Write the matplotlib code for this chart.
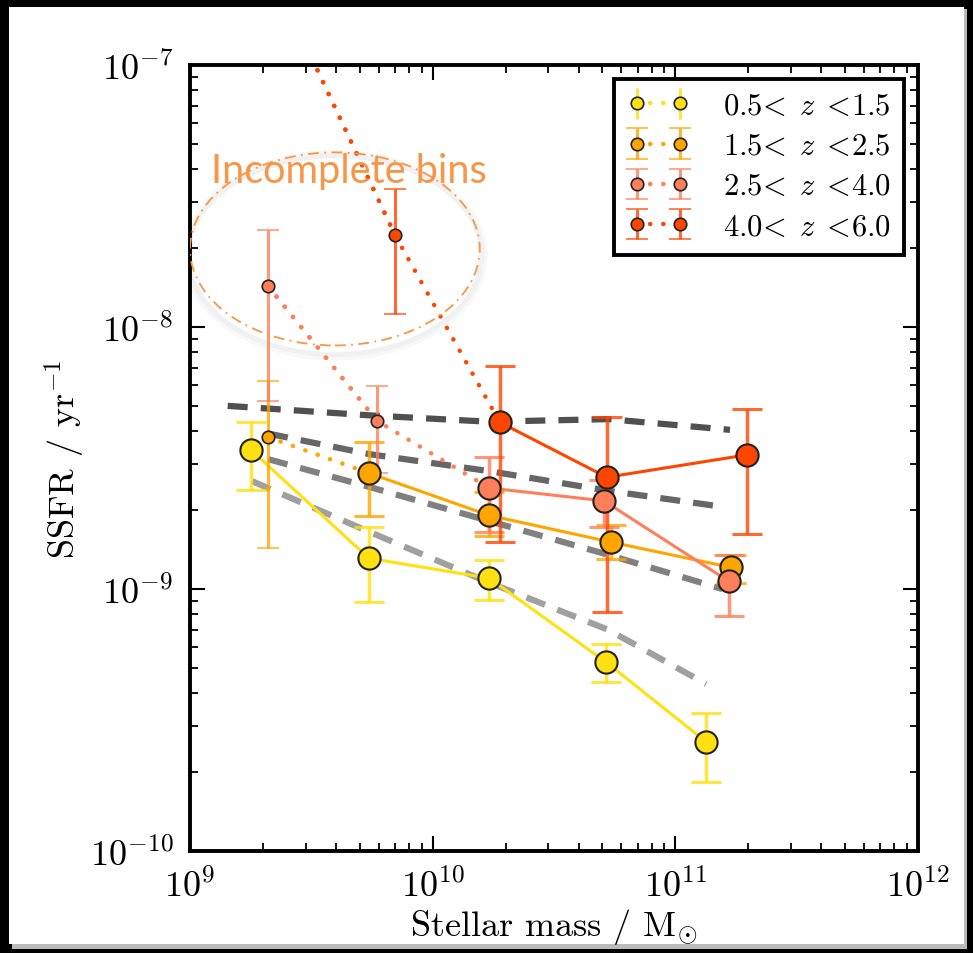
import numpy as np
import matplotlib
matplotlib.use("Agg")
import matplotlib.pyplot as plt
from matplotlib.patches import Ellipse, Rectangle

plt.rcParams['font.family'] = 'serif'
plt.rcParams['font.serif'] = ['cmr10']
plt.rcParams['mathtext.fontset'] = 'cm'
plt.rcParams['axes.formatter.use_mathtext'] = True

# ---- data ----
labels = [r'0.5$\!<\;z\;<\!$1.5', r'1.5$\!<\;z\;<\!$2.5', r'2.5$\!<\;z\;<\!$4.0', r'4.0$\!<\;z\;<\!$6.0']
colors = ['#FFE010', '#FFA500', '#FF7F5A', '#FF4500']

# complete bins
m_z1 = [1.78e9, 5.46e9, 1.71e10, 5.18e10, 1.34e11]
s_z1 = [3.4e-9, 1.31e-9, 1.10e-9, 5.26e-10, 2.61e-10]
lo_z1 = [2.39e-9, 0.89e-9, 0.91e-9, 4.42e-10, 1.83e-10]
hi_z1 = [4.34e-9, 1.73e-9, 1.29e-9, 6.17e-10, 3.37e-10]

m_z2 = [5.46e9, 1.71e10, 5.43e10, 1.69e11]
s_z2 = [2.77e-9, 1.91e-9, 1.51e-9, 1.21e-9]
lo_z2 = [1.90e-9, 1.60e-9, 1.30e-9, 1.05e-9]
hi_z2 = [3.64e-9, 2.35e-9, 1.75e-9, 1.35e-9]

m_z3 = [1.71e10, 5.08e10, 1.66e11]
s_z3 = [2.43e-9, 2.17e-9, 1.07e-9]
lo_z3 = [1.65e-9, 1.73e-9, 7.9e-10]
hi_z3 = [3.19e-9, 2.60e-9, 1.35e-9]

m_z4 = [1.89e10, 5.22e10, 1.97e11]
s_z4 = [4.33e-9, 2.67e-9, 3.25e-9]
lo_z4 = [1.51e-9, 8.17e-10, 1.62e-9]
hi_z4 = [7.1e-9, 4.53e-9, 4.86e-9]

# incomplete bins
mi_z1, si_z1, loi_z1, hii_z1 = [], [], [], []
mi_z2, si_z2, loi_z2, hii_z2 = [2.1e9], [3.8e-9], [1.44e-9], [6.22e-9]
mi_z3, si_z3, loi_z3, hii_z3 = [2.1e9, 5.9e9], [1.43e-8, 4.38e-9], [5.22e-9, 2.77e-9], [2.34e-8, 5.96e-9]
mi_z4, si_z4, loi_z4, hii_z4 = [2.1e9, 7.0e9], [2.4e-7, 2.24e-8], [1.6e-7, 1.12e-8], [3.2e-7, 3.36e-8]

# model curves (dashed grey)
model_m = [
    [1.43e9, 5.5e9, 1.7e10, 5.3e10, 1.68e11],
    [2.1e9, 5.5e9, 1.7e10, 5.3e10, 1.56e11],
    [2.1e9, 5.5e9, 1.7e10, 5.3e10, 1.56e11],
    [1.8e9, 5.5e9, 1.7e10, 5.3e10, 1.34e11],
]
model_s = [
    [5.0e-9, 4.6e-9, 4.35e-9, 4.45e-9, 4.05e-9],
    [3.92e-9, 3.27e-9, 2.82e-9, 2.37e-9, 2.06e-9],
    [3.13e-9, 2.45e-9, 1.82e-9, 1.35e-9, 1.0e-9],
    [2.58e-9, 1.65e-9, 1.06e-9, 6.98e-10, 4.34e-10],
]
model_colors = ['#505050', '#666666', '#808080', '#a0a0a0']

complete = [(m_z1, s_z1, lo_z1, hi_z1), (m_z2, s_z2, lo_z2, hi_z2),
            (m_z3, s_z3, lo_z3, hi_z3), (m_z4, s_z4, lo_z4, hi_z4)]
incomplete = [(mi_z1, si_z1, loi_z1, hii_z1), (mi_z2, si_z2, loi_z2, hii_z2),
              (mi_z3, si_z3, loi_z3, hii_z3), (mi_z4, si_z4, loi_z4, hii_z4)]

dots = (0, (0.05, 2.9))

fig = plt.figure(figsize=(9.73, 9.54), dpi=100, facecolor='black')
# white panel with a soft edge
fig.patches.append(Rectangle((12 / 973, 4 / 954), 955 / 973, 940 / 954, transform=fig.transFigure,
                             facecolor='#bbbbbb', edgecolor='none', zorder=-2))
fig.patches.append(Rectangle((9 / 973, 9 / 954), 955 / 973, 937 / 954, transform=fig.transFigure,
                             facecolor='white', edgecolor='none', zorder=-1))

ax = fig.add_axes([190 / 973, 1 - 852 / 954, 728 / 973, 786 / 954])
ax.set_xscale('log')
ax.set_yscale('log')

for mm, ss, c in zip(model_m, model_s, model_colors):
    ax.plot(mm, ss, color=c, lw=4.5, ls=(0, (3.2, 2.1)), zorder=2)

for i in range(4):
    c = colors[i]
    ec = matplotlib.colors.to_rgba(c, 0.8)
    mi, si, loi, hii = incomplete[i]
    m, s, lo, hi = complete[i]
    # dotted line joining incomplete bins to the first complete bin
    if len(mi) > 0:
        ax.plot(list(mi) + [m[0]], list(si) + [s[0]], color=c, lw=3.2,
                ls=dots, dash_capstyle='round', zorder=3)
    yerr_i = [np.array(si) - np.array(loi), np.array(hii) - np.array(si)]
    eb = ax.errorbar(mi, si, yerr=yerr_i, fmt='o', color=c, mfc=c, mec='#222222', mew=1.2, ms=9,
                     ecolor=ec, elinewidth=2.2, capsize=8, capthick=2.2, ls=dots, lw=3.2,
                     label=labels[i], zorder=4)
    eb[0].set_dash_capstyle('round')
    yerr = [np.array(s) - np.array(lo), np.array(hi) - np.array(s)]
    ax.errorbar(m, s, yerr=yerr, fmt='none', ecolor=ec, elinewidth=2.5, capsize=11,
                capthick=2.2, zorder=3)
    ax.plot(m, s, '-', color=c, lw=2.2, zorder=4)
    ax.plot(m, s, 'o', color=c, mec='#222222', mew=1.5, ms=16, zorder=5)

ax.set_xlim(1e9, 1e12)
ax.set_ylim(1e-10, 1e-7)

for sp in ax.spines.values():
    sp.set_linewidth(2.8)
ax.tick_params(which='both', direction='in', top=True, right=True, labelsize=26, pad=12)
ax.tick_params(which='major', length=11, width=1.5)
ax.tick_params(which='minor', length=5.5, width=1.3)

ax.set_xlabel(r'Stellar mass / M$_{\odot}$', fontsize=26, labelpad=2)
ax.set_ylabel(r'SSFR / yr$^{-1}$', fontsize=26, labelpad=2)

leg = ax.legend(loc='upper right', numpoints=2, fontsize=22, handlelength=2.0,
                borderaxespad=0.45, fancybox=False, framealpha=1, labelspacing=0.42,
                handletextpad=1.1, borderpad=0.45)
leg.get_frame().set_edgecolor('black')
leg.get_frame().set_linewidth(2.8)

# annotation: incomplete bins
for k, a in [(1.0, 0.06), (0.6, 0.06)]:
    ax.add_patch(Ellipse((0.199, 0.758), 0.398 + 0.01 * k, 0.2456 + 0.012 * k, transform=ax.transAxes,
                         fill=False, edgecolor='#888888', lw=6 * k, alpha=a, zorder=1))
ax.add_patch(Ellipse((0.199, 0.766), 0.398, 0.2456, transform=ax.transAxes, fill=False,
                     edgecolor='#F79646', lw=1.3, ls=(0, (6, 3, 1, 3)), zorder=6))
ax.text(0.218, 0.866, 'Incomplete bins', transform=ax.transAxes, ha='center', va='center',
        fontsize=28.5, color='#F79646', family='Lato', zorder=6)

fig.savefig('out.png', dpi=100, facecolor=fig.get_facecolor())
